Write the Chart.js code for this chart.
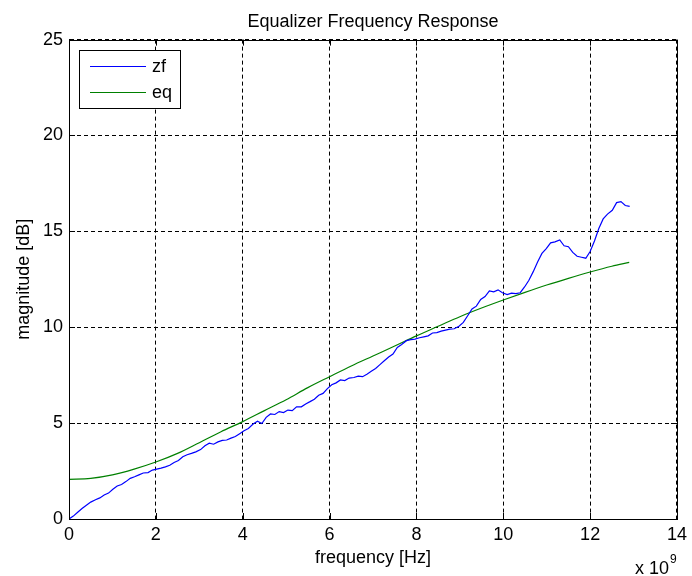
<!DOCTYPE html>
<html>
<head>
<meta charset="utf-8">
<title>Equalizer Frequency Response</title>
<script src="https://cdn.jsdelivr.net/npm/chart.js@4.4.0/dist/chart.umd.min.js"></script>
<style>
    html, body { margin: 0; padding: 0; background: #fff; }
    #wrap { width: 692px; height: 576px; }
</style>
</head>
<body>
<div id="wrap"><canvas id="eqChart" width="692" height="576"></canvas></div>
<script>
// Frequency in units of 1e9 Hz, magnitude in dB
const zfFreq = [
    0, 0.10, 0.20, 0.30, 0.40, 0.50, 0.61, 0.71, 0.81, 0.91,
    1.01, 1.11, 1.21, 1.31, 1.41, 1.51, 1.61, 1.71, 1.82, 1.92,
    2.02, 2.12, 2.22, 2.32, 2.42, 2.52, 2.62, 2.72, 2.82, 2.92,
    3.03, 3.13, 3.23, 3.33, 3.43, 3.53, 3.63, 3.73, 3.83, 3.93,
    4.03, 4.13, 4.24, 4.34, 4.44, 4.54, 4.64, 4.74, 4.84, 4.94,
    5.04, 5.14, 5.24, 5.35, 5.45, 5.55, 5.65, 5.75, 5.85, 5.95,
    6.05, 6.15, 6.25, 6.35, 6.45, 6.56, 6.66, 6.76, 6.86, 6.96,
    7.06, 7.16, 7.26, 7.36, 7.46, 7.56, 7.66, 7.77, 7.87, 7.97,
    8.07, 8.17, 8.27, 8.37, 8.47, 8.57, 8.67, 8.77, 8.87, 8.98,
    9.08, 9.18, 9.28, 9.38, 9.48, 9.58, 9.68, 9.78, 9.88, 9.98,
    10.09, 10.19, 10.29, 10.39, 10.49, 10.59, 10.69, 10.79, 10.89, 10.99,
    11.09, 11.19, 11.30, 11.40, 11.50, 11.60, 11.70, 11.80, 11.90, 12.00,
    12.10, 12.20, 12.30, 12.40, 12.51, 12.61, 12.71, 12.81, 12.91
];
const zfMag = [
    0, 0.15, 0.35, 0.55, 0.72, 0.88, 1.0, 1.1, 1.25, 1.35,
    1.55, 1.72, 1.8, 1.95, 2.12, 2.2, 2.3, 2.4, 2.42, 2.55,
    2.6, 2.65, 2.72, 2.8, 2.95, 3.05, 3.25, 3.35, 3.42, 3.5,
    3.62, 3.82, 3.95, 3.9, 4.02, 4.1, 4.12, 4.22, 4.3, 4.45,
    4.6, 4.72, 4.95, 5.1, 4.98, 5.3, 5.48, 5.45, 5.6, 5.55,
    5.68, 5.65, 5.85, 5.85, 6.0, 6.12, 6.25, 6.45, 6.55, 6.8,
    7.0, 7.1, 7.25, 7.22, 7.35, 7.38, 7.45, 7.42, 7.55, 7.7,
    7.85, 8.05, 8.25, 8.45, 8.6, 8.95, 9.1, 9.3, 9.35, 9.38,
    9.45, 9.5, 9.55, 9.7, 9.72, 9.8, 9.85, 9.9, 9.92, 10.05,
    10.25, 10.6, 10.95, 11.1, 11.45, 11.6, 11.9, 11.85, 11.95, 11.8,
    11.7, 11.78, 11.75, 11.8, 12.1, 12.45, 12.9, 13.4, 13.85, 14.1,
    14.4, 14.45, 14.55, 14.25, 14.2, 13.9, 13.7, 13.65, 13.6, 13.95,
    14.5, 15.15, 15.65, 15.9, 16.1, 16.5, 16.55, 16.35, 16.3
];

const eqFreq = [
    0, 0.5, 1, 1.5, 2, 2.5, 3, 3.5, 4, 4.5, 5, 5.5, 6, 6.5,
    7, 7.5, 8, 8.5, 9, 9.5, 10, 10.5, 11, 11.5, 12, 12.5, 12.9
];
const eqMag = [
    2.07, 2.12, 2.3, 2.6, 2.97, 3.42, 3.98, 4.55, 5.08, 5.65, 6.22, 6.85, 7.42, 7.98,
    8.5, 9.02, 9.55, 10.05, 10.55, 11.0, 11.42, 11.82, 12.2, 12.55, 12.88, 13.18, 13.38
];

const xTicks = [0, 2, 4, 6, 8, 10, 12, 14];
const yTicks = [0, 5, 10, 15, 20, 25];

const FONT = '"Liberation Sans", Arial, sans-serif';

function toPoints(xs, ys) {
    return xs.map((x, i) => ({ x: x, y: ys[i] }));
}

// Axes box, inward tick marks, boxed legend and the x10^9 exponent
const axesDecor = {
    id: 'axesDecor',
    afterDatasetsDraw(chart) {
        const ctx = chart.ctx;
        const area = chart.chartArea;
        const xs = chart.scales.x;
        const ys = chart.scales.y;
        const tick = 6;

        ctx.save();
        ctx.strokeStyle = '#000';
        ctx.lineWidth = 1;
        ctx.setLineDash([]);

        // inward ticks on all four sides
        ctx.beginPath();
        xTicks.forEach(v => {
            const px = Math.round(xs.getPixelForValue(v)) + 0.5;
            ctx.moveTo(px, area.bottom);
            ctx.lineTo(px, area.bottom - tick);
            ctx.moveTo(px, area.top);
            ctx.lineTo(px, area.top + tick);
        });
        yTicks.forEach(v => {
            const py = Math.round(ys.getPixelForValue(v)) + 0.5;
            ctx.moveTo(area.left, py);
            ctx.lineTo(area.left + tick, py);
            ctx.moveTo(area.right, py);
            ctx.lineTo(area.right - tick, py);
        });
        ctx.stroke();

        // axes box
        ctx.strokeRect(Math.round(area.left) + 0.5, Math.round(area.top) + 0.5,
            Math.round(area.right - area.left), Math.round(area.bottom - area.top));

        // legend
        const lx = 79.5, ly = 50.5, lw = 101, lh = 58;
        ctx.fillStyle = '#fff';
        ctx.fillRect(lx, ly, lw, lh);
        ctx.strokeRect(lx, ly, lw, lh);
        ctx.font = '18px ' + FONT;
        ctx.textAlign = 'left';
        ctx.textBaseline = 'middle';
        chart.data.datasets.forEach((ds, i) => {
            const y = 66 + i * 26 + 0.5;
            ctx.strokeStyle = ds.borderColor;
            ctx.lineWidth = ds.borderWidth;
            ctx.beginPath();
            ctx.moveTo(90, y);
            ctx.lineTo(146, y);
            ctx.stroke();
            ctx.fillStyle = '#000';
            ctx.fillText(ds.label, 152, y + 1);
        });

        // exponent of the frequency axis
        ctx.fillStyle = '#000';
        ctx.fillText('x 10', 635, 569);
        ctx.font = '12px ' + FONT;
        ctx.fillText('9', 670, 560);
        ctx.restore();
    }
};

const ctx = document.getElementById('eqChart').getContext('2d');
new Chart(ctx, {
    type: 'line',
    data: {
        datasets: [{
            label: 'zf',
            data: toPoints(zfFreq, zfMag),
            borderColor: '#0000ff',
            borderWidth: 1.2,
            pointRadius: 0,
            tension: 0,
            fill: false
        }, {
            label: 'eq',
            data: toPoints(eqFreq, eqMag),
            borderColor: '#008000',
            borderWidth: 1.2,
            pointRadius: 0,
            cubicInterpolationMode: 'monotone',
            fill: false
        }]
    },
    options: {
        responsive: false,
        animation: false,
        devicePixelRatio: 1,
        layout: {
            padding: { left: 0, right: 10, top: 0, bottom: 0 }
        },
        plugins: {
            legend: { display: false },
            tooltip: { enabled: false },
            title: {
                display: true,
                fullSize: false,
                text: 'Equalizer Frequency Response',
                color: '#000',
                font: { family: FONT, size: 18, weight: 'normal' },
                padding: { top: 11, bottom: 7 }
            }
        },
        scales: {
            x: {
                type: 'linear',
                min: 0,
                max: 14,
                afterFit: s => { s.height = 57; },
                afterBuildTicks: s => { s.ticks = xTicks.map(v => ({ value: v })); },
                ticks: {
                    color: '#000',
                    padding: 5,
                    maxRotation: 0,
                    font: { family: FONT, size: 18 }
                },
                grid: { color: '#000', drawTicks: false },
                border: { color: '#000', dash: [4, 3] },
                title: {
                    display: true,
                    text: 'frequency [Hz]',
                    color: '#000',
                    font: { family: FONT, size: 18 },
                    padding: { top: 0, bottom: 7 }
                }
            },
            y: {
                min: 0,
                max: 25,
                afterFit: s => { s.width = 69; },
                afterBuildTicks: s => { s.ticks = yTicks.map(v => ({ value: v })); },
                ticks: {
                    color: '#000',
                    padding: 6,
                    font: { family: FONT, size: 18 }
                },
                grid: { color: '#000', drawTicks: false },
                border: { color: '#000', dash: [4, 3] },
                title: {
                    display: true,
                    text: 'magnitude [dB]',
                    color: '#000',
                    font: { family: FONT, size: 18 },
                    padding: { top: 13, bottom: 0 }
                }
            }
        }
    },
    plugins: [axesDecor]
});
</script>
</body>
</html>
